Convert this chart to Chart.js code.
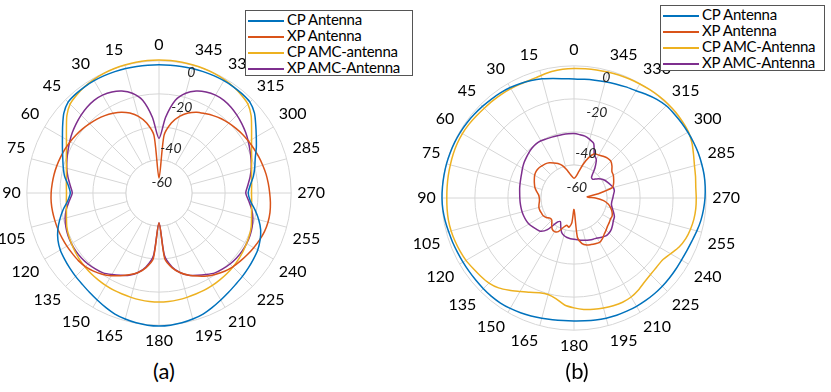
<!DOCTYPE html>
<html>
<head>
<meta charset="utf-8">
<script src="https://cdn.jsdelivr.net/npm/chart.js@4.4.0/dist/chart.umd.min.js"></script>
<style>
  body { margin: 0; width: 831px; height: 392px; position: relative; overflow: hidden; background: #fff; font-family: Lato, sans-serif; }
  canvas { position: absolute; }
  .legend { position: absolute; background: #fff; border: 1px solid #555; font-size: 15px; letter-spacing: -0.3px; line-height: 16px; color: #000; z-index: 2; white-space: nowrap; overflow: hidden; }
  .legend .row { height: 16px; }
  .legend .swatch { display: inline-block; width: 36px; height: 2px; vertical-align: middle; margin: 0 3px 0 2px; }
  .caption { position: absolute; font-size: 22px; transform: translateX(-50%); }
</style>
</head>
<body>
<canvas id="chartA" width="331" height="324" style="left:-4px;top:31px"></canvas>
<canvas id="chartB" width="331" height="328" style="left:411px;top:34px"></canvas>
<div class="legend" id="legendA" style="left:245px;top:10px;width:166px"></div>
<div class="legend" id="legendB" style="left:660px;top:5px;width:163px"></div>
<div class="caption" style="left:164px;top:357px">(a)</div>
<div class="caption" style="left:577px;top:357px">(b)</div>
<script>
// angles every 5 degrees, counter-clockwise from top (0..355)
const thetaDeg = Array.from({ length: 72 }, (_, i) => i * 5);
const rTicks = [-60, -40, -20, 0];

const namesA = ['CP Antenna', 'XP Antenna', 'CP AMC-antenna', 'XP AMC-Antenna'];
const namesB = ['CP Antenna', 'XP Antenna', 'CP AMC-Antenna', 'XP AMC-Antenna'];
const colors = ['#0072BD', '#D95319', '#EDB120', '#7E2F8E'];

// (a) gain in dB, theta = 0,5,...,355
const cpAntennaA = [-2.3, -2.3, -2.2, -2.0, -1.8, -1.6, -1.5, -1.5, -1.7, -2.2, -4.8, -8.8, -12.5, -15.5, -18, -20, -22, -24.8,
  -26.3, -24.5, -21, -17.8, -14.8, -12.5, -11, -10.2, -9.4, -8.6, -7.8, -6.6, -5.2, -3.6, -2, -1, -0.2, 0.3,
  0.5, 0.3, -0.2, -1, -2, -3.6, -5.2, -6.6, -7.8, -8.6, -9.4, -10.2, -11, -12.5, -14.5, -17.5, -21, -24.5,
  -26, -24.5, -22, -20, -18, -15, -12, -8.5, -4.6, -2.2, -1.7, -1.5, -1.5, -1.6, -1.8, -2, -2.2, -2.3];
const xpAntennaA = [-71, -45, -37, -32, -28.5, -26, -24.3, -22.8, -21.6, -20.6, -19.6, -18.7, -17.9, -17.2, -16.6, -16, -15.5, -15.1,
  -14.7, -14.5, -14.6, -14.8, -15, -15.3, -15.6, -16, -16.3, -17, -18.3, -20, -22.2, -24.8, -27.3, -30, -34, -40,
  -62, -40, -34, -30, -27, -24.5, -22, -20, -18.2, -16.8, -15.8, -14.8, -13.8, -12.8, -12, -11.7, -11.8, -12.3,
  -13, -13.6, -14.2, -15, -15.8, -16.6, -17.4, -18.2, -19.2, -20.2, -21.3, -22.8, -24.5, -26, -28.5, -32, -37, -45];
const cpAmcA = [0.5, 0.5, 0.4, 0.2, 0, -0.3, -0.8, -1.5, -2.5, -3.9, -7.2, -11.6, -15.3, -18.2, -20.3, -22, -23.1, -23.7,
  -24, -23.7, -23.1, -22, -20.6, -19.6, -18.8, -18, -17.3, -16.7, -16.2, -15.8, -15.4, -15.1, -14.9, -14.6, -14.3, -14.1,
  -14, -14.1, -14.3, -14.6, -14.9, -15.1, -15.4, -15.8, -16.2, -16.7, -17.3, -18, -18.8, -19.6, -20.6, -22, -23.1, -23.7,
  -24, -23.7, -23.1, -22, -20.3, -18.2, -15.3, -11.6, -7.2, -3.9, -2.5, -1.5, -0.8, -0.3, 0, 0.2, 0.4, 0.5];
const xpAmcA = [-47, -34, -23, -17.5, -14.3, -12.5, -11.6, -11.5, -12.2, -13.3, -14.6, -16, -17.6, -19.2, -20.7, -22.2, -24, -26,
  -27.5, -25.5, -23, -21.2, -20, -19.2, -18.8, -18.6, -18.7, -19.2, -20, -21, -23, -25, -27, -30, -34.5, -42,
  -62, -42, -34.5, -30, -27, -25, -23, -21, -20, -19.2, -18.7, -18.6, -18.8, -19.2, -20, -21.2, -23, -25.5,
  -27.5, -26, -24, -22.2, -20.7, -19.2, -17.6, -16, -14.6, -13.3, -12.2, -11.5, -11.6, -12.5, -14.3, -17.5, -23, -34];

// (b) gain in dB, theta = 0,5,...,355
const cpAntennaB = [-8, -7.5, -6.5, -5.3, -4.3, -3.5, -2.8, -2.3, -2, -1.6, -1.2, -0.8, -0.5, -0.3, -0.2, -0.1, -0.1, -0.1,
  -0.1, -0.3, -0.8, -1.4, -1.8, -2.2, -2.4, -2.5, -2.5, -2.4, -2.3, -2.4, -2.8, -3.4, -4, -4.7, -5.2, -5.5,
  -5.6, -5.4, -5, -4.7, -4.5, -4.4, -4.3, -4.3, -4.3, -4.4, -4.6, -4.8, -4.9, -4.6, -4, -3, -2, -1.3,
  -0.7, -0.3, 0, 0, 0, -0.2, -0.4, -0.6, -0.8, -1, -2, -3.5, -5, -5.8, -6.5, -7.1, -7.6, -7.9];
const xpAntennaB = [-68, -67, -65, -62, -59, -57, -55.5, -54, -53, -52.5, -52, -52, -52.5, -53.5, -54.5, -55.5, -57, -58.5,
  -59, -59, -58.5, -58, -58, -58.3, -58.5, -59.5, -61, -61, -59, -57, -56.5, -57.5, -61, -63, -62, -65,
  -73, -56, -52, -50.5, -50, -49.5, -49, -50, -51.5, -52.5, -53.5, -54, -54.5, -54.5, -55.5, -57, -59, -62,
  -67, -72, -65, -56, -54.5, -53.5, -52.5, -52, -50, -48.5, -48.5, -49.2, -50, -50.5, -54, -59, -64, -67];
const cpAmcB = [-1.6, -1.8, -2.3, -3.2, -3.8, -3.8, -3.6, -3.4, -3.3, -3.2, -2.8, -2.3, -2, -2, -2.2, -2.5, -2.7, -2.9,
  -3, -2.9, -2.8, -3, -3.4, -3.9, -4.5, -5.5, -6.3, -7.2, -9, -11.8, -14.7, -17, -19, -19.5, -18, -15,
  -13.5, -12.3, -11.6, -11, -10.6, -10.4, -10.8, -12, -13.6, -14.5, -14.8, -14.6, -12.5, -9.8, -8, -7, -6.3, -6,
  -6, -6, -5.3, -4.5, -3, -1.2, 0, 0.3, 0.5, 0.5, 0.3, 0, -0.3, -0.5, -0.8, -1.1, -1.3, -1.5];
const xpAmcB = [-41, -41, -41, -41, -40.8, -40.5, -40, -40, -40.5, -41.3, -42.2, -43, -44, -45, -45.7, -46.2, -46.6, -47,
  -47.2, -47.3, -47.4, -47.5, -47.7, -48, -48.5, -49.5, -50.5, -51.5, -55, -62, -63.5, -61, -58, -56.5, -55.7, -55.3,
  -55, -54.7, -54, -53.5, -53, -52.5, -52, -51, -50, -50, -50.5, -51.5, -52.5, -53, -54.5, -56, -57, -57,
  -56.5, -56, -55.2, -55.4, -56.5, -57.5, -58.5, -60, -62, -64, -63.5, -58, -53, -51, -45, -43.3, -42, -41.5];

// radar goes clockwise, the polar plot counter-clockwise
const labels = thetaDeg.map((_, i) => String((360 - i * 5) % 360));
const toClockwise = arr => arr.map((_, i) => arr[(72 - i) % 72]);

const gridColor = '#d6d6d6';
const tickInset = { '-60': -22, '-40': -20, '-20': -11, '0': -7.5 };

const polarDeco = {
  id: 'polarDeco',
  beforeDatasetsDraw(chart) {
    const s = chart.scales.r;
    const ctx = chart.ctx;
    const rr = s.getDistanceFromCenterForValue(-60);
    ctx.save();
    ctx.beginPath();
    ctx.arc(s.xCenter, s.yCenter, rr, 0, Math.PI * 2);
    ctx.fillStyle = '#fff';
    ctx.fill();
    ctx.strokeStyle = gridColor;
    ctx.lineWidth = 1;
    ctx.stroke();
    ctx.restore();
  },
  afterDatasetsDraw(chart) {
    const s = chart.scales.r;
    const ctx = chart.ctx;
    const a = 15 * Math.PI / 180;
    ctx.save();
    ctx.font = 'italic 14px Lato';
    ctx.fillStyle = '#262626';
    ctx.textAlign = 'center';
    ctx.textBaseline = 'middle';
    rTicks.forEach(v => {
      const d = s.getDistanceFromCenterForValue(v) + tickInset[String(v)];
      ctx.fillText(String(v), s.xCenter + d * Math.sin(a), s.yCenter - d * Math.cos(a));
    });
    ctx.restore();
  }
};

function makeChart(id, names, series) {
  return new Chart(document.getElementById(id), {
    type: 'radar',
    data: {
      labels: labels,
      datasets: series.map((arr, k) => ({
        label: names[k],
        data: toClockwise(arr),
        borderColor: colors[k],
        backgroundColor: 'transparent',
        borderWidth: 1.5,
        pointRadius: 0,
        fill: false,
        tension: 0.25
      }))
    },
    options: {
      responsive: false,
      animation: false,
      plugins: { legend: { display: false }, tooltip: { enabled: false } },
      scales: {
        r: {
          min: -80,
          max: 0,
          ticks: { display: false, stepSize: 20 },
          grid: { circular: true, color: gridColor, lineWidth: 1 },
          angleLines: {
            color: ctx => ctx.index % 3 === 0 ? gridColor : 'rgba(0,0,0,0)',
            lineWidth: 1
          },
          pointLabels: {
            font: { family: 'Lato', size: 16 },
            color: '#000',
            padding: 6,
            callback: (label, i) => i % 3 === 0 ? label : ''
          }
        }
      }
    },
    plugins: [polarDeco]
  });
}

function makeLegend(id, names) {
  document.getElementById(id).innerHTML = names.map((n, k) =>
    '<div class="row"><span class="swatch" style="background:' + colors[k] + '"></span>' + n + '</div>'
  ).join('');
}

makeChart('chartA', namesA, [cpAntennaA, xpAntennaA, cpAmcA, xpAmcA]);
makeChart('chartB', namesB, [cpAntennaB, xpAntennaB, cpAmcB, xpAmcB]);
makeLegend('legendA', namesA);
makeLegend('legendB', namesB);
</script>
</body>
</html>
